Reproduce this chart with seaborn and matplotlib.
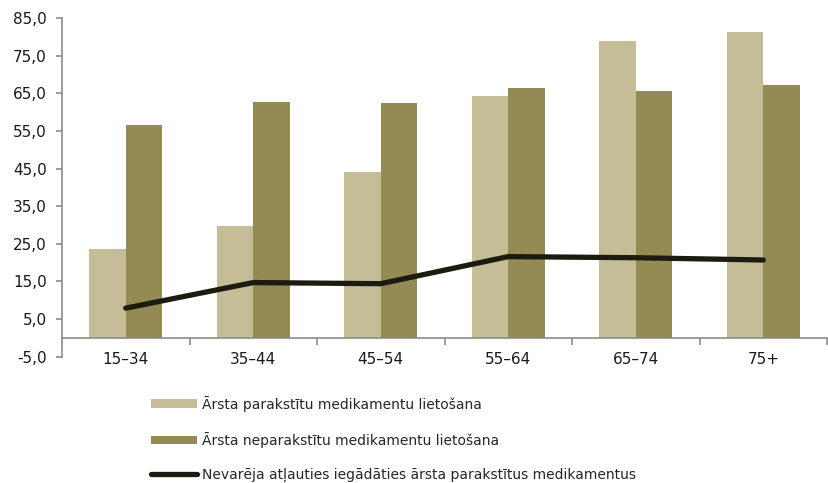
import numpy as np
import pandas as pd
import matplotlib
matplotlib.use("Agg")
import matplotlib.pyplot as plt
import seaborn as sns
from matplotlib.lines import Line2D
from matplotlib.patches import Patch
from matplotlib.ticker import FixedLocator

categories = ["15–34", "35–44", "45–54", "55–64", "65–74", "75+"]
prescribed = [23.6, 29.8, 44.2, 64.4, 79.0, 81.2]
non_prescribed = [56.5, 62.8, 62.3, 66.5, 65.7, 67.2]
could_not_afford = [7.9, 14.7, 14.4, 21.6, 21.3, 20.7]

label_a = "Ārsta parakstītu medikamentu lietošana"
label_b = "Ārsta neparakstītu medikamentu lietošana"
label_c = "Nevarēja atļauties iegādāties ārsta parakstītus medikamentus"

col_a = "#C4BD97"
col_b = "#948A54"
col_c = "#1D1B10"

sns.set_theme(style="white")
plt.rcParams["font.family"] = ["DejaVu Sans"]

df = pd.DataFrame({
    "cat": categories * 2,
    "val": prescribed + non_prescribed,
    "series": [label_a] * len(categories) + [label_b] * len(categories),
})

fig = plt.figure(figsize=(8.29, 4.83), dpi=100)
ax = fig.add_axes([0.0748, 0.2615, 0.9228, 0.7012])

sns.barplot(data=df, x="cat", y="val", hue="series", order=categories,
            hue_order=[label_a, label_b], palette=[col_a, col_b], saturation=1,
            width=0.57, gap=0, linewidth=0, legend=False, ax=ax, errorbar=None)
sns.lineplot(x=np.arange(len(categories)), y=could_not_afford, color=col_c,
             linewidth=3.8, ax=ax, legend=False, solid_capstyle="round")

ax.set_xlim(-0.5, len(categories) - 0.5)
ax.set_ylim(-5, 85)
ax.set_yticks(np.arange(-5, 86, 10))
ax.set_yticklabels([f"{v:.1f}".replace(".", ",") for v in np.arange(-5, 86, 10)],
                   fontsize=11, color="#1a1a1a")
ax.set_xlabel("")
ax.set_ylabel("")

for s in ["top", "right"]:
    ax.spines[s].set_visible(False)
ax.spines["left"].set_color("#8c8c8c")
ax.spines["left"].set_linewidth(1.2)
ax.spines["bottom"].set_position(("data", 0))
ax.spines["bottom"].set_color("#8c8c8c")
ax.spines["bottom"].set_linewidth(1.2)

ax.tick_params(axis="y", which="major", direction="out", length=4, width=1.2,
               color="#8c8c8c", left=True, pad=7)
ax.tick_params(axis="x", which="major", length=0, pad=10, labelsize=11,
               labelcolor="#1a1a1a")
ax.xaxis.set_minor_locator(FixedLocator(np.arange(0.5, len(categories), 1.0)))
ax.tick_params(axis="x", which="minor", direction="out", length=5, width=1.2,
               color="#8c8c8c", bottom=True)

handles = [
    Patch(facecolor=col_a, edgecolor="none"),
    Patch(facecolor=col_b, edgecolor="none"),
    Line2D([0], [0], color=col_c, linewidth=3.8, solid_capstyle="round"),
]
fig.legend(handles, [label_a, label_b, label_c], loc="upper left",
           bbox_to_anchor=(0.182, 0.181), frameon=False, fontsize=10,
           handlelength=3.3, handleheight=0.55, handletextpad=0.36,
           labelspacing=1.45, borderpad=0, borderaxespad=0)

fig.savefig("out.png", dpi=100)
